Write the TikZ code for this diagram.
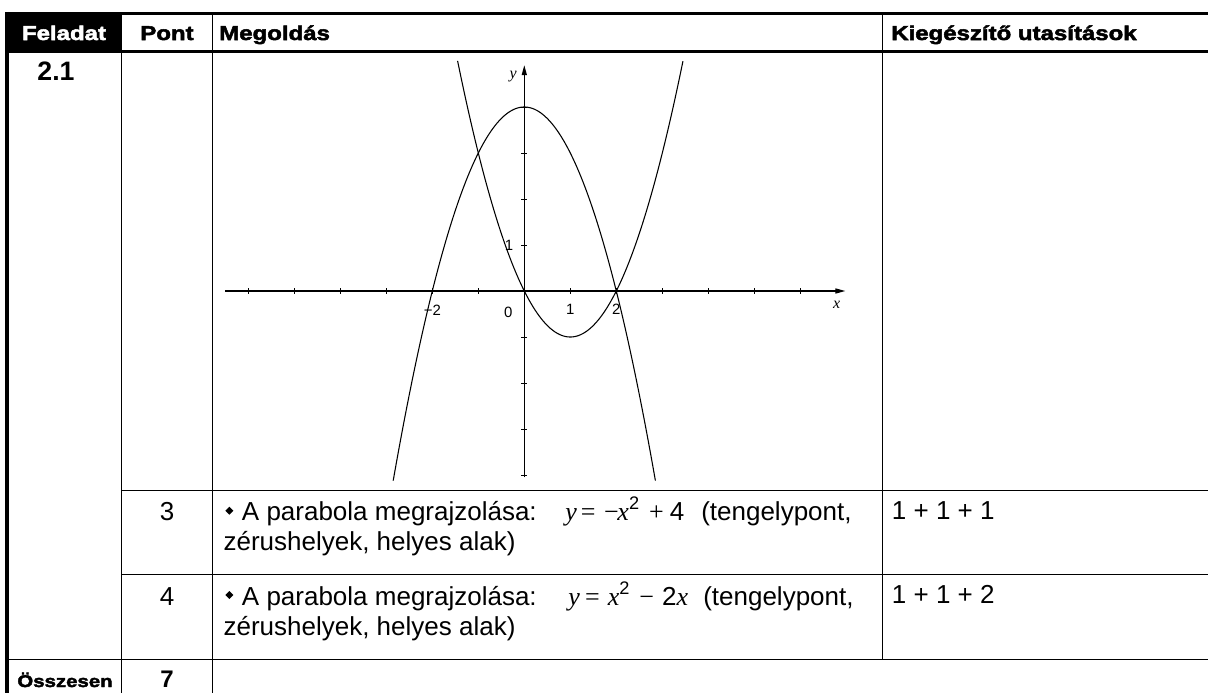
\documentclass[tikz,border=0pt]{standalone}
\usepackage{fontspec}
\setmainfont{Liberation Sans}
\newfontfamily\hdrfont[FakeStretch=1.2,FakeBold=2.5]{Liberation Sans Bold}
\newfontfamily\tmsfont{Liberation Serif}
\usetikzlibrary{arrows.meta}
\begin{document}
\begin{tikzpicture}[x=0.75pt,y=-0.75pt,
  thinline/.style={line width=0.9pt},
  thickline/.style={line width=2.6pt},
  hdr/.style={font=\hdrfont\fontsize{15}{18}\selectfont, inner sep=0pt, anchor=base},
  hdrw/.style={hdr, anchor=base west},
  body/.style={font=\fontsize{19.5}{23}\selectfont, inner sep=0pt, anchor=base west},
  bodyc/.style={body, anchor=base},
  boldnum/.style={font=\bfseries\fontsize{18}{21}\selectfont, inner sep=0pt, anchor=base},
  tick/.style={line width=0.75pt},
  axis/.style={line width=0.9pt},
  curve/.style={line width=0.8pt},
  glab/.style={font=\fontsize{11.2}{13}\selectfont, inner sep=0pt},
  vlab/.style={font=\tmsfont\itshape\fontsize{12}{14}\selectfont, inner sep=0pt},
  bullet/.style={fill=black}
]
\useasboundingbox (0,0) rectangle (1208,693);
% header black cell
\fill[black] (5.25,11.75) rectangle (121.7,51.3);
% table lines
\draw[thickline] (5.25,13.5) -- (1208,13.5);
\draw[thickline] (5.25,51.3) -- (1208,51.3);
\draw[thickline] (7,11.75) -- (7,693);
\draw[thinline] (121.7,13.5) -- (121.7,693);
\draw[thinline] (212.3,13.5) -- (212.3,693);
\draw[thinline] (882.5,13.5) -- (882.5,659.3);
\draw[thinline] (121.7,490.7) -- (1208,490.7);
\draw[thinline] (121.7,574.3) -- (1208,574.3);
\draw[thinline] (7,659.3) -- (1208,659.3);
% header texts
\node[hdr, text=white] (hfel) at (64,40) {Feladat};
\node[hdr] (hpont) at (167,40) {Pont};
\node[hdrw] (hmeg) at (219,40) {Megoldás};
\node[hdrw] (hkieg) at (891,40) {Kiegészítő utasítások};
% task number
\node[boldnum, font=\bfseries\fontsize{20}{24}\selectfont] (task) at (56,80) {2.1};
% graph
\begin{scope}[shift={(524.3,291)}, x=34.5pt, y=34.5pt]
  \coordinate (xs) at (-6.5,0);
  \coordinate (xe) at (6.98,0);
  \coordinate (ys) at (0,-4.05);
  \coordinate (ye) at (0,4.91);
  \draw[axis, -{Triangle[length=7.5pt,width=3.8pt]}] (xs) -- (xe);
  \draw[axis, -{Triangle[length=7.5pt,width=3.8pt]}] (ys) -- (ye);
  \foreach \i in {-6,-5,-4,-3,-2,-1,1,2,3,4,5,6}
    \draw[tick] (\i,-0.065) -- (\i,0.065);
  \foreach \j in {-4,-3,-2,-1,1,2,3,4}
    \draw[tick] (-0.065,\j) -- (0.065,\j);
  \draw[curve, domain=-2.85:2.85, samples=120, smooth] plot (\x,{4-\x*\x});
  \draw[curve, domain=-1.45:3.45, samples=120, smooth] plot (\x,{\x*\x-2*\x});
  \node[glab] (lm2) at (-2.0,-0.41) {−2};
  \node[glab] (l0) at (-0.35,-0.46) {0};
  \node[glab] (l1) at (1.0,-0.40) {1};
  \node[glab] (l2) at (2.0,-0.40) {2};
  \node[glab] (ly1) at (-0.33,1.0) {1};
  \node[vlab] (lx) at (6.79,-0.31) {x};
  \node[vlab] (ly) at (-0.24,4.66) {y};
\end{scope}
% row 3
\node[bodyc] (p3) at (167,520) {3};
\fill[bullet] (229.3,506.7) -- (233.3,510.7) -- (229.3,514.7) -- (225.3,510.7) -- cycle;
\node[body] (t3a) at (241.7,520) {A parabola megrajzolása:};
\node[body] (f3) at (565,520) {{\tmsfont\itshape y}\kern3pt{\tmsfont =}\kern6.5pt{\tmsfont −}\kern-1pt{\tmsfont\itshape x}\textsuperscript{2}\kern7pt{\tmsfont +}\kern4.5pt4};
\node[body] (t3b) at (701,520) {(tengelypont,};
\node[body] (t3c) at (223.3,550) {zérushelyek, helyes alak)};
\node[body] (k3) at (891.7,519) {1 + 1 + 1};
% row 4
\node[bodyc] (p4) at (167,605) {4};
\fill[bullet] (229.3,591) -- (233.3,595) -- (229.3,599) -- (225.3,595) -- cycle;
\node[body] (t4a) at (241.7,605) {A parabola megrajzolása:};
\node[body] (f4) at (568,605) {{\tmsfont\itshape y}\kern4pt{\tmsfont =}\kern6pt{\tmsfont\itshape x}\textsuperscript{2}\kern7pt{\tmsfont −}\kern6pt2{\tmsfont\itshape x}};
\node[body] (t4b) at (703,605) {(tengelypont,};
\node[body] (t4c) at (223.3,635) {zérushelyek, helyes alak)};
\node[body] (k4) at (891.7,603) {1 + 1 + 2};
% total row
\node[hdr, font=\hdrfont\fontsize{12.75}{15}\selectfont] (ossz) at (65,687) {Összesen};
\node[boldnum] (tot) at (167,687) {7};
\end{tikzpicture}
\end{document}
